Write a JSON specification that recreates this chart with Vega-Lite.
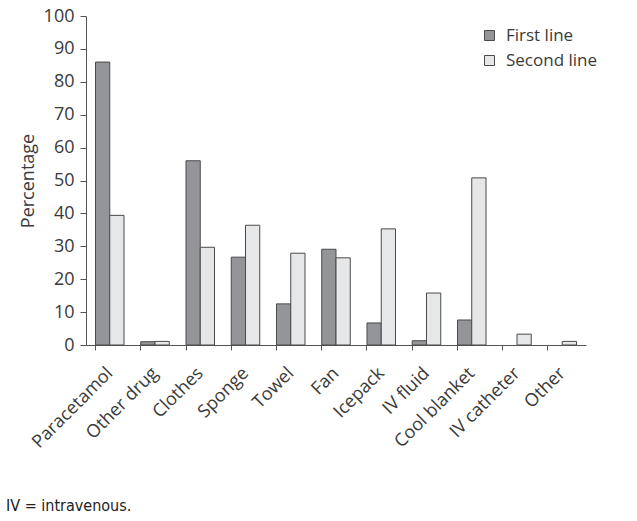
{
  "$schema": "https://vega.github.io/schema/vega-lite/v6.json",
  "width": 500,
  "height": 329,
  "autosize": {"type": "none"},
  "padding": {"left": 86, "top": 16, "right": 51, "bottom": 176},
  "background": "white",
  "data": {
    "values": [
      {"item": "Paracetamol", "line": "First line", "pct": 86},
      {"item": "Paracetamol", "line": "Second line", "pct": 39.4},
      {"item": "Other drug", "line": "First line", "pct": 1},
      {"item": "Other drug", "line": "Second line", "pct": 1.1},
      {"item": "Clothes", "line": "First line", "pct": 56},
      {"item": "Clothes", "line": "Second line", "pct": 29.7},
      {"item": "Sponge", "line": "First line", "pct": 26.7},
      {"item": "Sponge", "line": "Second line", "pct": 36.4},
      {"item": "Towel", "line": "First line", "pct": 12.5},
      {"item": "Towel", "line": "Second line", "pct": 27.9},
      {"item": "Fan", "line": "First line", "pct": 29.1},
      {"item": "Fan", "line": "Second line", "pct": 26.5},
      {"item": "Icepack", "line": "First line", "pct": 6.7},
      {"item": "Icepack", "line": "Second line", "pct": 35.3},
      {"item": "IV fluid", "line": "First line", "pct": 1.3},
      {"item": "IV fluid", "line": "Second line", "pct": 15.8},
      {"item": "Cool blanket", "line": "First line", "pct": 7.6},
      {"item": "Cool blanket", "line": "Second line", "pct": 50.8},
      {"item": "IV catheter", "line": "Second line", "pct": 3.3},
      {"item": "Other", "line": "Second line", "pct": 1.1}
    ]
  },
  "title": {
    "text": "IV = intravenous.",
    "orient": "bottom",
    "anchor": "start",
    "frame": "group",
    "dx": -80,
    "offset": 47,
    "font": "Liberation Sans Narrow, DejaVu Sans Condensed, sans-serif",
    "fontSize": 16,
    "fontWeight": "normal",
    "color": "#222222"
  },
  "mark": {"type": "bar", "stroke": "#4a4a4a", "strokeWidth": 1},
  "encoding": {
    "x": {
      "field": "item",
      "type": "nominal",
      "sort": ["Paracetamol", "Other drug", "Clothes", "Sponge", "Towel", "Fan", "Icepack", "IV fluid", "Cool blanket", "IV catheter", "Other"],
      "scale": {"paddingInner": 0.37, "paddingOuter": 0.21},
      "axis": {
        "title": null,
        "labelAngle": -45,
        "labelAlign": "right",
        "labelBaseline": "top",
        "labelOffset": -6,
        "labelPadding": 14,
        "labelFontSize": 18,
        "labelFont": "Open Sans",
        "labelColor": "#3a3a3a",
        "bandPosition": 0,
        "tickSize": 5,
        "tickColor": "#555555",
        "domainColor": "#555555"
      }
    },
    "xOffset": {"field": "line", "type": "nominal", "scale": {"domain": ["First line", "Second line"], "paddingInner": 0, "paddingOuter": 0}},
    "y": {
      "field": "pct",
      "type": "quantitative",
      "scale": {"domain": [0, 100], "nice": false},
      "axis": {
        "title": "Percentage",
        "titleFont": "Open Sans",
        "titleFontSize": 18,
        "titleFontWeight": "normal",
        "titleColor": "#3a3a3a",
        "titlePadding": 6,
        "values": [0, 10, 20, 30, 40, 50, 60, 70, 80, 90, 100],
        "grid": false,
        "labelFont": "Open Sans",
        "labelFontSize": 18,
        "labelColor": "#3a3a3a",
        "tickSize": 6,
        "tickColor": "#555555",
        "domainColor": "#555555",
        "labelPadding": 6
      }
    },
    "fill": {
      "field": "line",
      "type": "nominal",
      "scale": {"domain": ["First line", "Second line"], "range": ["#939598", "#e6e7e8"]},
      "legend": {
        "title": null,
        "orient": "none",
        "legendX": 395,
        "legendY": 11,
        "symbolType": "square",
        "symbolSize": 100,
        "symbolStrokeColor": "#4a4a4a",
        "symbolStrokeWidth": 1,
        "labelFont": "Open Sans",
        "labelFontSize": 17,
        "labelColor": "#3a3a3a",
        "labelOffset": 8,
        "rowPadding": 7
      }
    }
  },
  "config": {"view": {"stroke": null}}
}
